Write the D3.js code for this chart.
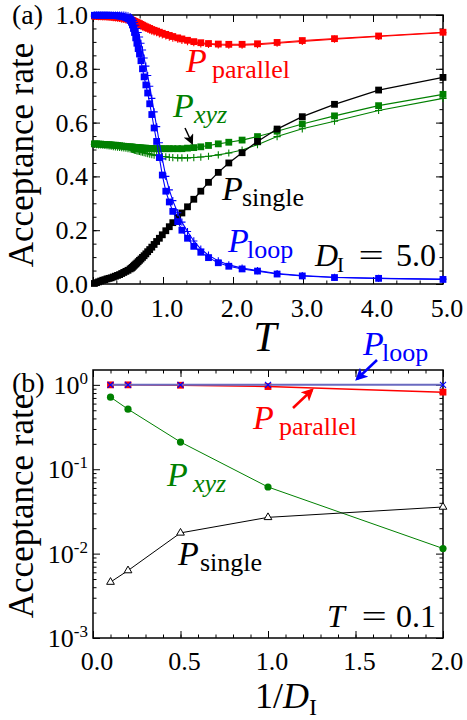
<!DOCTYPE html>
<html>
<head>
<meta charset="utf-8">
<script src="https://cdn.jsdelivr.net/npm/d3@7"></script>
<style>
  body { margin: 0; background: #fff; }
</style>
</head>
<body>
<svg id="chart" width="467" height="720"></svg>
<script>
// ---- panel (a): acceptance rate vs T, D_I = 5.0 ----
const tempA = [0.02, 0.05, 0.08, 0.11, 0.14, 0.17, 0.20, 0.23, 0.26, 0.29, 0.32, 0.35, 0.38, 0.41, 0.44, 0.47, 0.50, 0.53,
  0.549, 0.563, 0.578, 0.593, 0.610, 0.627, 0.645, 0.664, 0.685, 0.707, 0.730, 0.755, 0.781, 0.810, 0.840, 0.873, 0.909, 0.948, 0.990,
  1.04, 1.09, 1.14, 1.21, 1.27, 1.35, 1.44, 1.54, 1.65, 1.79, 1.94, 2.13, 2.35, 2.63, 2.99, 3.45, 4.08, 5.0];

const parallelSq = [0.996, 0.996, 0.996, 0.995, 0.995, 0.995, 0.994, 0.994, 0.993, 0.993, 0.992, 0.991, 0.990, 0.989, 0.988, 0.986, 0.985, 0.983,
  0.981, 0.980, 0.978, 0.976, 0.974, 0.972, 0.970, 0.968, 0.965, 0.962, 0.959, 0.956, 0.953, 0.950, 0.946, 0.943, 0.940, 0.936, 0.932,
  0.928, 0.924, 0.920, 0.915, 0.911, 0.906, 0.901, 0.897, 0.894, 0.892, 0.891, 0.891, 0.893, 0.898, 0.905, 0.912, 0.922, 0.936];
const parallelPlus = [0.995, 0.995, 0.994, 0.994, 0.993, 0.993, 0.992, 0.992, 0.991, 0.990, 0.989, 0.988, 0.987, 0.985, 0.984, 0.982, 0.980, 0.978,
  0.976, 0.975, 0.973, 0.971, 0.969, 0.967, 0.965, 0.962, 0.959, 0.956, 0.953, 0.950, 0.947, 0.944, 0.940, 0.937, 0.934, 0.930, 0.926,
  0.922, 0.918, 0.914, 0.910, 0.906, 0.901, 0.897, 0.893, 0.891, 0.889, 0.888, 0.888, 0.890, 0.895, 0.902, 0.910, 0.920, 0.934];

const loopSq = [0.999, 0.999, 0.999, 0.999, 0.999, 0.999, 0.999, 0.999, 0.998, 0.998, 0.998, 0.997, 0.996, 0.995, 0.993, 0.990, 0.986, 0.980,
  0.973, 0.963, 0.950, 0.935, 0.915, 0.895, 0.875, 0.855, 0.830, 0.800, 0.770, 0.740, 0.710, 0.670, 0.630, 0.580, 0.530, 0.470, 0.405,
  0.345, 0.305, 0.270, 0.232, 0.200, 0.170, 0.140, 0.118, 0.098, 0.079, 0.066, 0.056, 0.048, 0.037, 0.030, 0.024, 0.021, 0.017];
const loopPlus = [1.0, 1.0, 1.0, 1.0, 1.0, 1.0, 1.0, 1.0, 1.0, 1.0, 1.0, 1.0, 1.0, 1.0, 1.0, 0.999, 0.997, 0.994,
  0.990, 0.986, 0.980, 0.972, 0.962, 0.950, 0.935, 0.918, 0.895, 0.870, 0.840, 0.810, 0.775, 0.735, 0.690, 0.640, 0.585, 0.525, 0.465,
  0.400, 0.350, 0.310, 0.265, 0.230, 0.195, 0.160, 0.130, 0.107, 0.086, 0.071, 0.059, 0.050, 0.039, 0.031, 0.025, 0.021, 0.018];

const singleSq = [0.002, 0.005, 0.008, 0.011, 0.014, 0.016, 0.019, 0.021, 0.023, 0.026, 0.029, 0.032, 0.035, 0.039, 0.043, 0.047, 0.051, 0.056,
  0.059, 0.062, 0.066, 0.070, 0.074, 0.078, 0.083, 0.088, 0.093, 0.099, 0.105, 0.112, 0.120, 0.128, 0.137, 0.147, 0.158, 0.170, 0.183,
  0.198, 0.213, 0.228, 0.247, 0.264, 0.287, 0.315, 0.345, 0.378, 0.415, 0.450, 0.488, 0.530, 0.576, 0.622, 0.668, 0.721, 0.768];

const xyzSq = [0.521, 0.521, 0.520, 0.520, 0.519, 0.519, 0.518, 0.518, 0.517, 0.516, 0.516, 0.515, 0.514, 0.513, 0.512, 0.511, 0.510, 0.510,
  0.509, 0.509, 0.508, 0.508, 0.507, 0.507, 0.507, 0.506, 0.506, 0.505, 0.505, 0.505, 0.504, 0.504, 0.504, 0.503, 0.503, 0.503, 0.503,
  0.503, 0.503, 0.503, 0.503, 0.503, 0.505, 0.507, 0.510, 0.515, 0.521, 0.527, 0.535, 0.548, 0.568, 0.595, 0.625, 0.663, 0.705];
const xyzPlus = [0.519, 0.518, 0.517, 0.517, 0.516, 0.515, 0.514, 0.513, 0.512, 0.511, 0.510, 0.509, 0.508, 0.507, 0.506, 0.505, 0.503, 0.502,
  0.501, 0.500, 0.499, 0.498, 0.497, 0.495, 0.494, 0.493, 0.491, 0.490, 0.488, 0.486, 0.485, 0.483, 0.481, 0.479, 0.478, 0.476, 0.474,
  0.473, 0.471, 0.470, 0.469, 0.469, 0.469, 0.470, 0.472, 0.475, 0.480, 0.487, 0.498, 0.518, 0.548, 0.577, 0.605, 0.645, 0.690];

const ticksA_x = [0, 1, 2, 3, 4, 5];
const ticksA_y = [0, 0.2, 0.4, 0.6, 0.8, 1.0];

// ---- panel (b): acceptance rate vs 1/D_I at T = 0.1 ----
const invD = [0.1, 0.2, 0.5, 1.0, 2.0];
const loopB = [1.0, 1.0, 1.0, 1.0, 1.0];
const parallelB = [1.0, 1.0, 0.99, 0.955, 0.82];
const xyzB = [0.715, 0.515, 0.21, 0.0616, 0.0115];
const singleB = [0.0046, 0.0063, 0.0176, 0.0269, 0.0357];

const ticksB_x = [0, 0.5, 1.0, 1.5, 2.0];
const ticksB_y = [1e-3, 1e-2, 1e-1, 1];
const expB = ["-3", "-2", "-1", "0"];

const RED = "#ff0000", BLUE = "#0000ff", GREEN = "#008000", BLACK = "#000000", LOOPLINE = "#6a6ac0";
const FONT = '"Liberation Serif"';

const svg = d3.select("#chart");

const xA = d3.scaleLinear().domain([0, 5]).range([93, 443]);
const yA = d3.scaleLinear().domain([0, 1]).range([284, 15]);
const xB = d3.scaleLinear().domain([0, 2]).range([93, 443]);
const yB = d3.scaleLog().domain([1e-3, 1.5]).range([638, 370]);

function txt(g, x, y, s, size, o = {}) {
  return g.append("text")
    .attr("x", x).attr("y", y)
    .style("font-family", FONT)
    .attr("font-size", size)
    .attr("font-style", o.italic ? "italic" : "normal")
    .attr("fill", o.color || BLACK)
    .attr("text-anchor", o.anchor || "start")
    .text(s);
}

// P with a subscript
function pLabel(g, x, y, sub, color, subItalic, subDx) {
  txt(g, x, y, "P", 34, { italic: true, color });
  txt(g, x + subDx, y + 6, sub, 26, { italic: subItalic, color });
}

// "lhs = value" annotation, wide TeX-like equals sign
function eqLabel(g, y, eqX, value) {
  txt(g, 0, 0, "=", 32, { anchor: "middle" })
    .attr("transform", `translate(${eqX},${y}) scale(1.4,1)`);
  txt(g, 436, y, value, 32, { anchor: "end" });
}

function frame(g, x, y, xMajor, xMinor, yMajor, yMinor) {
  const [x0, x1] = x.range(), [y0, y1] = y.range();
  const axes = [
    [d3.axisBottom(x), `translate(0,${y0})`],
    [d3.axisTop(x), `translate(0,${y1})`],
    [d3.axisLeft(y), `translate(${x0},0)`],
    [d3.axisRight(y), `translate(${x1},0)`]
  ];
  axes.forEach(([ax, tr], i) => {
    const major = i < 2 ? xMajor : yMajor, minor = i < 2 ? xMinor : yMinor;
    g.append("g").attr("transform", tr)
      .call(ax.tickValues(minor).tickSize(-3.5).tickSizeOuter(0).tickFormat(""))
      .call(a => a.select(".domain").remove());
    g.append("g").attr("transform", tr)
      .call(ax.tickValues(major).tickSize(-7).tickSizeOuter(0).tickFormat(""))
      .call(a => a.select(".domain").remove());
  });
  g.selectAll(".tick line").attr("stroke-width", 1);
  g.append("rect")
    .attr("x", x0).attr("y", y1)
    .attr("width", x1 - x0).attr("height", y0 - y1)
    .attr("fill", "none").attr("stroke", BLACK).attr("stroke-width", 1.5);
}

function series(g, xs, ys, x, y, color, marker, lw, o = {}) {
  const pts = xs.map((t, i) => [t, ys[i]]);
  g.append("path").datum(pts)
    .attr("fill", "none").attr("stroke", o.lineColor || color).attr("stroke-width", lw)
    .attr("d", d3.line().x(d => x(d[0])).y(d => y(d[1])));
  const m = g.append("g").selectAll("g").data(pts).join("g")
    .attr("transform", d => `translate(${x(d[0])},${y(d[1])})`);
  if (marker === "square") {
    m.append("rect").attr("x", -3.4).attr("y", -3.4).attr("width", 6.8).attr("height", 6.8).attr("fill", color);
  } else if (marker === "plus") {
    m.append("path").attr("d", "M-3.6,0H3.6M0,-3.6V3.6").attr("stroke", color).attr("stroke-width", 1.1);
  } else if (marker === "cross") {
    m.append("path").attr("d", "M-3,-3L3,3M-3,3L3,-3").attr("stroke", color).attr("stroke-width", 1.2);
  } else if (marker === "circle") {
    m.append("circle").attr("r", 3.6).attr("fill", color);
  } else if (marker === "triangle") {
    m.append("path").attr("d", d3.symbol(d3.symbolTriangle, 26)()).attr("fill", "#fff").attr("stroke", color).attr("stroke-width", 1);
  }
}

// arrowheads
const defs = svg.append("defs");
[["headK", BLACK, 7], ["headR", RED, 5], ["headB", BLUE, 5]].forEach(([id, c, s]) => {
  defs.append("marker").attr("id", id)
    .attr("viewBox", "0 0 10 10").attr("refX", 8).attr("refY", 5)
    .attr("markerWidth", s).attr("markerHeight", s).attr("orient", "auto")
    .attr("markerUnits", "strokeWidth")
    .append("path").attr("d", "M0,0L10,5L0,10L2.5,5Z").attr("fill", c);
});
function arrow(g, x1, y1, x2, y2, color, w, id) {
  g.append("line").attr("x1", x1).attr("y1", y1).attr("x2", x2).attr("y2", y2)
    .attr("stroke", color).attr("stroke-width", w).attr("marker-end", `url(#${id})`);
}

// ---------- panel (a) ----------
const ga = svg.append("g");
const minorAx = d3.range(0, 5.001, 1 / 3);
const minorAy = d3.range(0, 1.001, 0.05);
frame(ga, xA, yA, ticksA_x, minorAx, ticksA_y, minorAy);

ticksA_x.forEach(v => txt(ga, xA(v) + 4, 317, v.toFixed(1), 26, { anchor: "middle" }));
ticksA_y.forEach(v => txt(ga, 88, yA(v) + 9, v.toFixed(1), 26, { anchor: "end" }));

series(ga, tempA, parallelPlus, xA, yA, RED, "plus", 1.1);
series(ga, tempA, parallelSq, xA, yA, RED, "square", 1.1);
series(ga, tempA, xyzPlus, xA, yA, GREEN, "plus", 1.1);
series(ga, tempA, xyzSq, xA, yA, GREEN, "square", 1.1);
series(ga, tempA, singleSq, xA, yA, BLACK, "square", 1.3);
series(ga, tempA, loopPlus, xA, yA, BLUE, "plus", 1.1);
series(ga, tempA, loopSq, xA, yA, BLUE, "square", 1.1);

txt(ga, 12, 24, "(a)", 28);
txt(ga, 0, 0, "Acceptance rate", 35, { anchor: "middle" })
  .attr("transform", "translate(33,155) rotate(-90)");
txt(ga, 265, 351, "T", 42, { italic: true, anchor: "middle" });

pLabel(ga, 186, 72, "parallel", RED, false, 26);
pLabel(ga, 173, 117, "xyz", GREEN, true, 21);
pLabel(ga, 222, 200, "single", BLACK, false, 20);
pLabel(ga, 228, 252, "loop", BLUE, false, 19);
arrow(ga, 185, 128, 192, 143, BLACK, 1.5, "headK");

txt(ga, 315, 266, "D", 32, { italic: true });
txt(ga, 337, 272, "I", 21);
eqLabel(ga, 266, 371, "5.0");

// ---------- panel (b) ----------
const gb = svg.append("g");
const minorBx = d3.range(0, 2.001, 0.1);
const minorBy = [];
[1e-3, 1e-2, 1e-1, 1].forEach(p => [2, 3, 4, 5, 6, 7, 8, 9].forEach(k => { if (k * p <= 1.5) minorBy.push(k * p); }));
frame(gb, xB, yB, ticksB_x, minorBx, ticksB_y, minorBy);

ticksB_x.forEach(v => txt(gb, xB(v) + 4, 670, v.toFixed(1), 26, { anchor: "middle" }));
ticksB_y.forEach((v, i) => {
  const t = txt(gb, 88, yB(v) + 9, "", 26, { anchor: "end" });
  t.append("tspan").text("10");
  t.append("tspan").attr("dy", -10).attr("font-size", 17).text(expB[i]);
});

series(gb, invD, parallelB, xB, yB, RED, "square", 1.5);
series(gb, invD, loopB, xB, yB, BLUE, "cross", 2, { lineColor: LOOPLINE });
series(gb, invD, xyzB, xB, yB, GREEN, "circle", 1);
series(gb, invD, singleB, xB, yB, BLACK, "triangle", 1);

txt(gb, 12, 392, "(b)", 28);
txt(gb, 0, 0, "Acceptance rate", 35, { anchor: "middle" })
  .attr("transform", "translate(33,506) rotate(-90)");
const xl = txt(gb, 255, 708, "", 36);
xl.append("tspan").text("1/");
xl.append("tspan").attr("font-style", "italic").text("D");
xl.append("tspan").attr("font-size", 24).attr("dy", 7).text("I");

pLabel(gb, 363, 355, "loop", BLUE, false, 19);
arrow(gb, 377, 360, 357, 379, BLUE, 2.5, "headB");
pLabel(gb, 253, 429, "parallel", RED, false, 26);
arrow(gb, 293, 408, 312, 390, RED, 2.5, "headR");
pLabel(gb, 167, 486, "xyz", GREEN, true, 26);
pLabel(gb, 178, 565, "single", BLACK, false, 22);

txt(gb, 327, 627, "T", 32, { italic: true });
eqLabel(gb, 627, 374, "0.1");
</script>
</body>
</html>
